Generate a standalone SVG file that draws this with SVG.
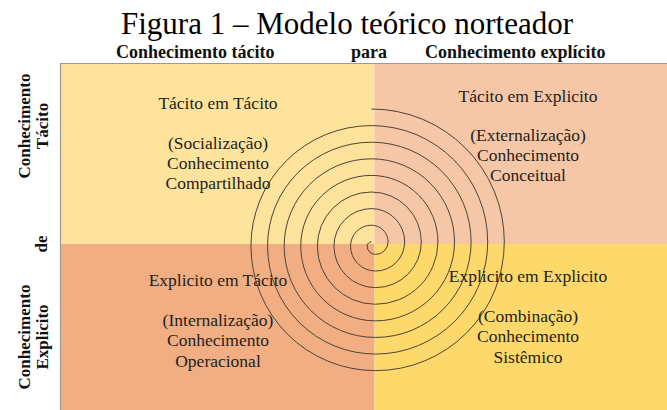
<svg xmlns="http://www.w3.org/2000/svg" width="667" height="410" viewBox="0 0 667 410">
<style>
.q{font-family:"Liberation Serif","Times New Roman",serif;font-size:17.5px;fill:#1e1e1e;text-anchor:middle}
.h{font-family:"Liberation Serif","Times New Roman",serif;font-size:18px;font-weight:bold;fill:#111}
.v{font-family:"Liberation Serif","Times New Roman",serif;font-size:17px;font-weight:bold;fill:#111;text-anchor:middle}
</style>
<rect width="667" height="410" fill="#ffffff"/>
<text x="347" y="34" text-anchor="middle" font-family="Liberation Serif, Times New Roman, serif" font-size="31" fill="#000">Figura 1 – Modelo teórico norteador</text>
<g id="header">
<text class="h" x="116" y="58">Conhecimento tácito</text>
<text class="h" x="351" y="58">para</text>
<text class="h" x="425" y="58">Conhecimento explícito</text>
</g>
<g id="side">
<text class="v" transform="translate(30,126) rotate(-90)">Conhecimento</text>
<text class="v" transform="translate(48,126) rotate(-90)">Tácito</text>
<text class="v" transform="translate(47,244) rotate(-90)">de</text>
<text class="v" transform="translate(30,337) rotate(-90)">Conhecimento</text>
<text class="v" transform="translate(48,337) rotate(-90)">Explicito</text>
</g>
<g id="q-tl"><rect x="60" y="63" width="314.5" height="181" fill="#fde39b"/></g>
<g id="q-tr"><rect x="374.5" y="63" width="292.5" height="181" fill="#f5c7a7"/></g>
<g id="q-bl"><rect x="60" y="244" width="314.5" height="166" fill="#f1ae82"/></g>
<g id="q-br"><rect x="374.5" y="244" width="292.5" height="166" fill="#fdd86a"/></g>
<path d="M60.5 410V63.5H667" fill="none" stroke="#9a9a9a" stroke-width="1.2"/>
<g id="spiral">
<path fill="none" stroke="#4f4237" stroke-width="1" d="M371.4 109
A132.9 132.9 0 0 1 504.3 241.9
A128.75 128.75 0 0 1 375.55 370.65
A124.6 124.6 0 0 1 250.95 246.05
A120.45 120.45 0 0 1 371.4 125.6
A116.3 116.3 0 0 1 487.7 241.9
A112.15 112.15 0 0 1 375.55 354.05
A108 108 0 0 1 267.55 246.05
A103.85 103.85 0 0 1 371.4 142.2
A99.7 99.7 0 0 1 471.1 241.9
A95.55 95.55 0 0 1 375.55 337.45
A91.4 91.4 0 0 1 284.15 246.05
A87.25 87.25 0 0 1 371.4 158.8
A83.1 83.1 0 0 1 454.5 241.9
A78.95 78.95 0 0 1 375.55 320.85
A74.8 74.8 0 0 1 300.75 246.05
A70.65 70.65 0 0 1 371.4 175.4
A66.5 66.5 0 0 1 437.9 241.9
A62.35 62.35 0 0 1 375.55 304.25
A58.2 58.2 0 0 1 317.35 246.05
A54.05 54.05 0 0 1 371.4 192
A49.9 49.9 0 0 1 421.3 241.9
A45.75 45.75 0 0 1 375.55 287.65
A41.6 41.6 0 0 1 333.95 246.05
A37.45 37.45 0 0 1 371.4 208.6
A33.3 33.3 0 0 1 404.7 241.9
A29.15 29.15 0 0 1 375.55 271.05
A25 25 0 0 1 350.55 246.05
A20.85 20.85 0 0 1 371.4 225.2
A16.7 16.7 0 0 1 388.1 241.9
A12.55 12.55 0 0 1 375.55 254.45
A8.4 8.4 0 0 1 367.15 246.05
A4.25 4.25 0 0 1 371.4 241.8"/>
</g>
<g id="t-tl">
<text class="q" x="218" y="109">Tácito em Tácito</text>
<text class="q" x="218" y="149">(Socialização)</text>
<text class="q" x="218" y="169">Conhecimento</text>
<text class="q" x="218" y="189">Compartilhado</text>
</g>
<g id="t-tr">
<text class="q" x="528" y="102">Tácito em Explicito</text>
<text class="q" x="528" y="141">(Externalização)</text>
<text class="q" x="528" y="161">Conhecimento</text>
<text class="q" x="528" y="181">Conceitual</text>
</g>
<g id="t-bl">
<text class="q" x="218" y="286">Explicito em Tácito</text>
<text class="q" x="218" y="326">(Internalização)</text>
<text class="q" x="218" y="346">Conhecimento</text>
<text class="q" x="218" y="367">Operacional</text>
</g>
<g id="t-br">
<text class="q" x="528" y="282">Explicito em Explicito</text>
<text class="q" x="528" y="322">(Combinação)</text>
<text class="q" x="528" y="342">Conhecimento</text>
<text class="q" x="528" y="363">Sistêmico</text>
</g>
</svg>
